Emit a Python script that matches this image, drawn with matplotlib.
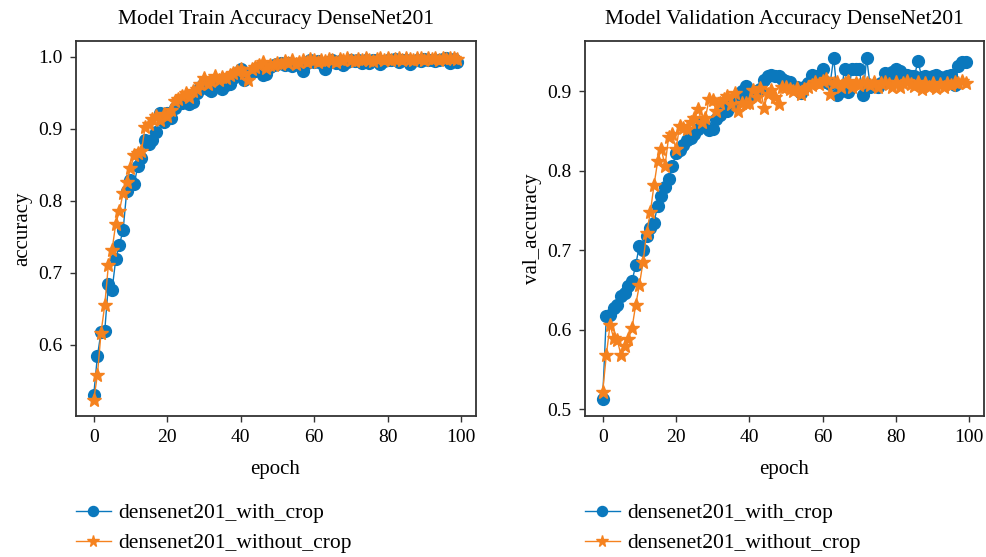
import matplotlib
matplotlib.use("Agg")
import matplotlib.pyplot as plt
import numpy as np

plt.rcParams['font.family'] = ['Liberation Serif', 'DejaVu Serif']

BLUE = "#0a78bd"
ORANGE = "#f5821f"

epochs = list(range(100))

train_with_crop = [
    0.530, 0.584, 0.618, 0.619, 0.684, 0.676, 0.719, 0.739, 0.759, 0.814,
    0.829, 0.823, 0.848, 0.860, 0.884, 0.879, 0.885, 0.895, 0.922, 0.910,
    0.922, 0.915, 0.929, 0.938, 0.936, 0.944, 0.935, 0.937, 0.950, 0.958,
    0.963, 0.955, 0.953, 0.962, 0.966, 0.955, 0.961, 0.962, 0.971, 0.978,
    0.983, 0.968, 0.975, 0.979, 0.981, 0.985, 0.975, 0.976, 0.986, 0.988,
    0.990, 0.991, 0.988, 0.992, 0.987, 0.990, 0.989, 0.980, 0.992, 0.996,
    0.993, 0.994, 0.992, 0.983, 0.993, 0.995, 0.992, 0.994, 0.989, 0.993,
    0.995, 0.994, 0.996, 0.992, 0.995, 0.991, 0.996, 0.995, 0.990, 0.994,
    0.996, 0.995, 0.997, 0.993, 0.995, 0.996, 0.990, 0.994, 0.996, 0.994,
    0.997, 0.995, 0.996, 0.994, 0.995, 0.997, 0.998, 0.991, 0.997, 0.993,
]

train_without_crop = [
    0.523, 0.558, 0.617, 0.655, 0.711, 0.732, 0.768, 0.786, 0.811, 0.826,
    0.845, 0.863, 0.866, 0.869, 0.903, 0.906, 0.914, 0.918, 0.912, 0.921,
    0.918, 0.926, 0.938, 0.942, 0.945, 0.950, 0.944, 0.953, 0.956, 0.962,
    0.971, 0.962, 0.966, 0.974, 0.968, 0.972, 0.970, 0.975, 0.977, 0.980,
    0.983, 0.978, 0.968, 0.983, 0.986, 0.988, 0.993, 0.985, 0.989, 0.988,
    0.991, 0.990, 0.994, 0.992, 0.995, 0.990, 0.993, 0.996, 0.993, 0.997,
    0.995, 0.993, 0.996, 0.994, 0.997, 0.995, 0.993, 0.997, 0.995, 0.998,
    0.996, 0.994, 0.997, 0.995, 0.998, 0.996, 0.994, 0.997, 0.999, 0.996,
    0.998, 0.995, 0.997, 0.999, 0.996, 0.998, 0.997, 0.995, 0.998, 0.999,
    0.996, 0.998, 0.997, 0.999, 0.996, 0.998, 0.997, 0.999, 0.998, 0.997,
]

val_with_crop = [
    0.513, 0.618, 0.619, 0.627, 0.631, 0.642, 0.646, 0.655, 0.661, 0.681,
    0.706, 0.701, 0.718, 0.728, 0.735, 0.756, 0.769, 0.780, 0.790, 0.806,
    0.822, 0.826, 0.833, 0.839, 0.841, 0.847, 0.853, 0.860, 0.857, 0.852,
    0.853, 0.865, 0.870, 0.879, 0.875, 0.883, 0.888, 0.895, 0.900, 0.907,
    0.894, 0.898, 0.900, 0.903, 0.914, 0.920, 0.921, 0.919, 0.920, 0.916,
    0.913, 0.912, 0.905, 0.905, 0.898, 0.905, 0.910, 0.921, 0.920, 0.920,
    0.928, 0.912, 0.909, 0.942, 0.896, 0.900, 0.928, 0.899, 0.928, 0.928,
    0.928, 0.895, 0.942, 0.905, 0.908, 0.905, 0.910, 0.923, 0.918, 0.925,
    0.928, 0.926, 0.918, 0.921, 0.920, 0.919, 0.938, 0.918, 0.920, 0.918,
    0.920, 0.921, 0.918, 0.916, 0.920, 0.921, 0.908, 0.932, 0.937, 0.937,
]

val_without_crop = [
    0.522, 0.568, 0.606, 0.590, 0.587, 0.568, 0.580, 0.588, 0.602, 0.631,
    0.656, 0.685, 0.722, 0.748, 0.782, 0.812, 0.828, 0.806, 0.843, 0.846,
    0.827, 0.857, 0.854, 0.853, 0.862, 0.866, 0.878, 0.862, 0.866, 0.890,
    0.889, 0.875, 0.885, 0.890, 0.894, 0.884, 0.898, 0.875, 0.885, 0.885,
    0.885, 0.902, 0.893, 0.904, 0.879, 0.897, 0.902, 0.893, 0.884, 0.905,
    0.906, 0.903, 0.900, 0.904, 0.897, 0.903, 0.905, 0.908, 0.912, 0.909,
    0.913, 0.915, 0.897, 0.910, 0.912, 0.906, 0.910, 0.913, 0.905, 0.911,
    0.908, 0.912, 0.910, 0.908, 0.912, 0.906, 0.910, 0.912, 0.909, 0.905,
    0.912, 0.906, 0.910, 0.913, 0.909, 0.907, 0.912, 0.903, 0.910, 0.906,
    0.911, 0.904, 0.909, 0.905, 0.910, 0.908, 0.912, 0.910, 0.913, 0.911,
]

series_labels = ["densenet201_with_crop", "densenet201_without_crop"]

fig = plt.figure(figsize=(9.86, 5.57), dpi=100)
ax1 = fig.add_axes([0.0766, 0.2531, 0.4057, 0.6733])
ax2 = fig.add_axes([0.5928, 0.2531, 0.4050, 0.6733])

panels = [
    (ax1, train_with_crop, train_without_crop, "Model Train Accuracy DenseNet201", "accuracy"),
    (ax2, val_with_crop, val_without_crop, "Model Validation Accuracy DenseNet201", "val_accuracy"),
]

for ax, a, b, title, ylabel in panels:
    ax.plot(epochs, a, color=BLUE, marker="o", markersize=8.5, linewidth=1.0,
            label=series_labels[0])
    ax.plot(epochs, b, color=ORANGE, marker="*", markersize=10, linewidth=1.0,
            label=series_labels[1])
    ax.set_title(title, fontsize=15.5, pad=12)
    ax.set_xlabel("epoch", fontsize=15, labelpad=10)
    ax.set_ylabel(ylabel, fontsize=15, labelpad=4)
    ax.set_xticks([0, 20, 40, 60, 80, 100])
    ax.tick_params(labelsize=14, length=4.5, width=1, pad=5, color="#333333")
    for s in ax.spines.values():
        s.set_linewidth(1.3)
        s.set_color("#333333")
    ax.legend(loc="upper left", bbox_to_anchor=(-0.02, -0.21), frameon=False,
              fontsize=15.5, handlelength=1.6, handletextpad=0.35,
              labelspacing=0.45, borderaxespad=0, markerscale=0.85)

ax1.set_ylim(0.501, 1.022)

fig.savefig("out.png", dpi=100)
